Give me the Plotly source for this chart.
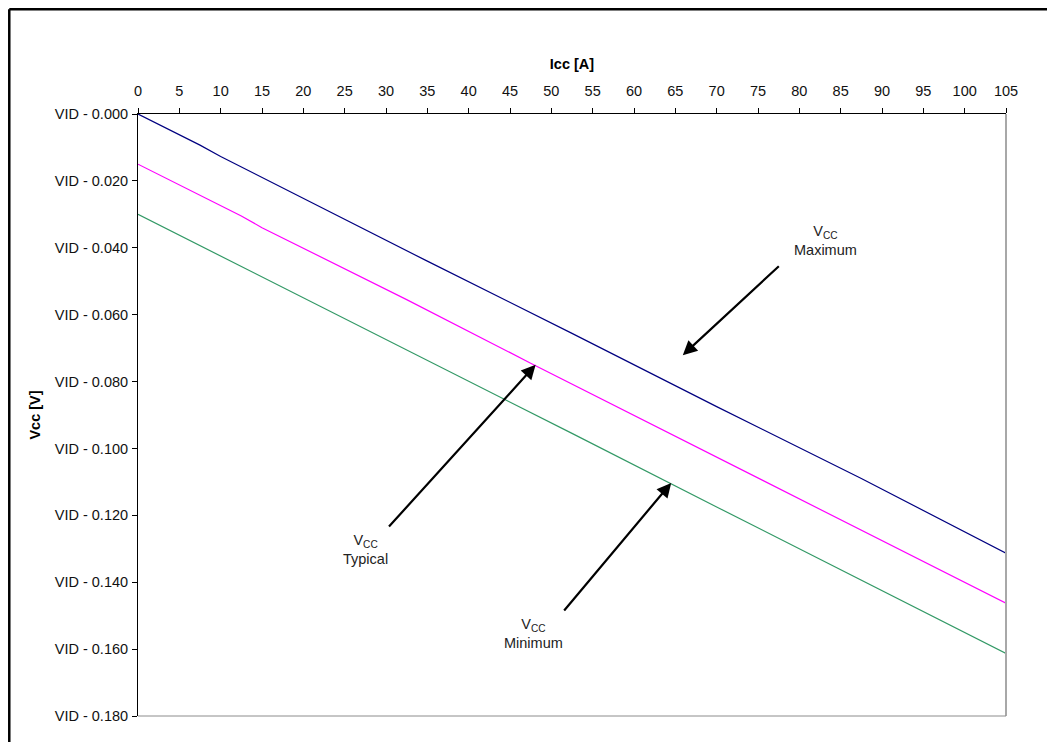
import plotly.graph_objects as go

# Data (Icc in A, Vcc offset from VID in V)
max_icc = [0, 7.5, 10, 35, 52.5, 70, 87.5, 105]
max_vcc = [0.0, -0.0093, -0.0127, -0.0440, -0.0656, -0.0875, -0.1090, -0.1313]
typ_icc = [0, 12.5, 15, 32.5, 47.5, 70, 87.5, 105]
typ_vcc = [-0.015, -0.0305, -0.0340, -0.0555, -0.0745, -0.1025, -0.1245, -0.1463]
min_icc = [0, 32.5, 35, 52.5, 70, 92.5, 105]
min_vcc = [-0.030, -0.0705, -0.0737, -0.0955, -0.1175, -0.1455, -0.1613]

x_ticks = list(range(0, 106, 5))
y_tickvals = [0, -0.02, -0.04, -0.06, -0.08, -0.10, -0.12, -0.14, -0.16, -0.18]
y_ticktext = ["VID - 0.000", "VID - 0.020", "VID - 0.040", "VID - 0.060", "VID - 0.080",
              "VID - 0.100", "VID - 0.120", "VID - 0.140", "VID - 0.160", "VID - 0.180"]

FONT = "Liberation Sans, Arial, sans-serif"
FS = 14.5

fig = go.Figure()
fig.add_trace(go.Scatter(x=max_icc, y=max_vcc, mode="lines",
                         line=dict(color="#000080", width=1.2), name="Maximum"))
fig.add_trace(go.Scatter(x=typ_icc, y=typ_vcc, mode="lines",
                         line=dict(color="#FF00FF", width=1.2), name="Typical"))
fig.add_trace(go.Scatter(x=min_icc, y=min_vcc, mode="lines",
                         line=dict(color="#339966", width=1.2), name="Minimum"))

fig.update_layout(
    width=1055, height=742,
    margin=dict(l=130, r=57, t=106, b=34),
    paper_bgcolor="white", plot_bgcolor="white",
    showlegend=False,
    font=dict(family=FONT, size=FS, color="black"),
)

fig.update_xaxes(
    side="top", range=[0, 105], tickvals=x_ticks,
    showgrid=False, zeroline=False,
    showline=True, linecolor="black", linewidth=1,
    ticks="outside", ticklen=5, tickcolor="black",
    ticklabelstandoff=6,
    tickfont=dict(family=FONT, size=FS, color="#111111"),
    title=dict(text="<b>Icc [A]</b>", font=dict(family=FONT, size=FS), standoff=10),
)
fig.update_yaxes(
    range=[-0.18, 0], tickvals=y_tickvals, ticktext=y_ticktext,
    showgrid=False, zeroline=False,
    showline=True, linecolor="black", linewidth=1,
    ticks="outside", ticklen=5, tickcolor="black",
    ticklabelstandoff=1,
    tickfont=dict(family=FONT, size=FS, color="#111111"),
    title=dict(text="<b>Vcc [V]</b>", font=dict(family=FONT, size=FS), standoff=10),
)

# Grey right and bottom borders of the plot area
fig.add_shape(type="line", xref="paper", yref="paper", x0=1, x1=1, y0=0, y1=1,
              line=dict(color="#A8A8A8", width=2))
fig.add_shape(type="line", xref="paper", yref="paper", x0=0, x1=1, y0=0, y1=0,
              line=dict(color="#8C8C8C", width=1))
# Outer frame (left and top edges visible)
fig.add_shape(type="line", xref="paper", yref="paper", x0=-0.1483, x1=-0.1483, y0=-0.2, y1=1.174,
              line=dict(color="black", width=2.5))
fig.add_shape(type="line", xref="paper", yref="paper", x0=-0.1483, x1=1.2, y0=1.174, y1=1.174,
              line=dict(color="black", width=2.5))

# Arrows
arrows = [
    (65.9, -0.0721, 77.7, -0.0451),
    (48.1, -0.0750, 30.2, -0.1238),
    (64.5, -0.1103, 51.4, -0.1489),
]
for hx, hy, tx, ty in arrows:
    fig.add_annotation(x=hx, y=hy, ax=tx, ay=ty, xref="x", yref="y", axref="x", ayref="y",
                       text="", showarrow=True, arrowhead=2, arrowsize=1.3, arrowwidth=2.2,
                       arrowcolor="black")

labels = [
    (83.2, -0.0378, "Maximum"),
    (27.5, -0.1302, "Typical"),
    (47.9, -0.1553, "Minimum"),
]
for x, y, t in labels:
    fig.add_annotation(x=x, y=y, xref="x", yref="y",
                       text="V<sub>CC</sub><br>" + t, showarrow=False,
                       font=dict(family=FONT, size=FS, color="#222222"), align="center")

fig.write_html("out.html")
